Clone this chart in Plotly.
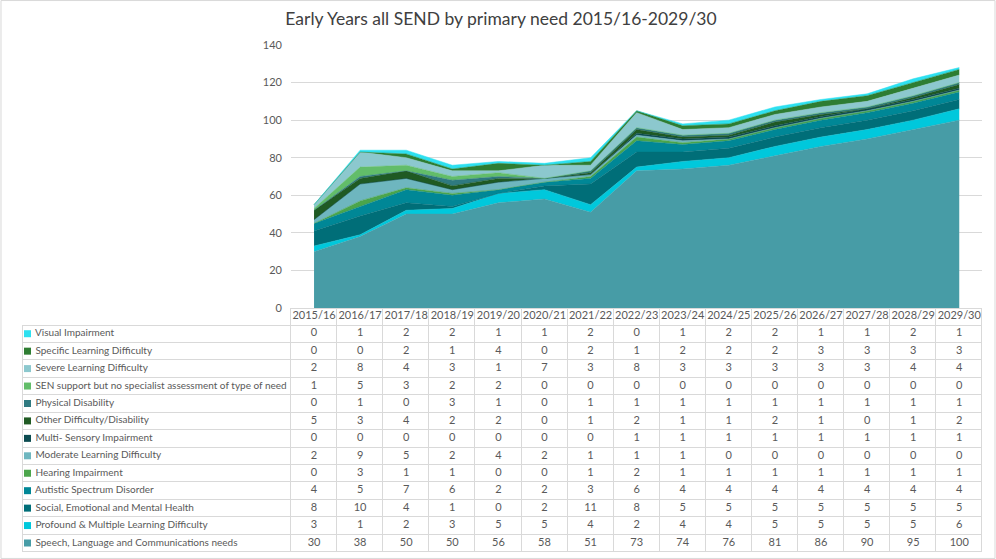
import plotly.graph_objects as go

years = ["2015/16", "2016/17", "2017/18", "2018/19", "2019/20", "2020/21", "2021/22", "2022/23",
         "2023/24", "2024/25", "2025/26", "2026/27", "2027/28", "2028/29", "2029/30"]

# Series in stacking order (bottom first)
speech = [30, 38, 50, 50, 56, 58, 51, 73, 74, 76, 81, 86, 90, 95, 100]
profound = [3, 1, 2, 3, 5, 5, 4, 2, 4, 4, 5, 5, 5, 5, 6]
social = [8, 10, 4, 1, 0, 2, 11, 8, 5, 5, 5, 5, 5, 5, 5]
autistic = [4, 5, 7, 6, 2, 2, 3, 6, 4, 4, 4, 4, 4, 4, 4]
hearing = [0, 3, 1, 1, 0, 0, 1, 2, 1, 1, 1, 1, 1, 1, 1]
moderate = [2, 9, 5, 2, 4, 2, 1, 1, 1, 0, 0, 0, 0, 0, 0]
multi_sensory = [0, 0, 0, 0, 0, 0, 0, 1, 1, 1, 1, 1, 1, 1, 1]
other = [5, 3, 4, 2, 2, 0, 1, 2, 1, 1, 2, 1, 0, 1, 2]
physical = [0, 1, 0, 3, 1, 0, 1, 1, 1, 1, 1, 1, 1, 1, 1]
sen_support = [1, 5, 3, 2, 2, 0, 0, 0, 0, 0, 0, 0, 0, 0, 0]
severe = [2, 8, 4, 3, 1, 7, 3, 8, 3, 3, 3, 3, 3, 4, 4]
specific = [0, 0, 2, 1, 4, 0, 2, 1, 2, 2, 2, 3, 3, 3, 3]
visual = [0, 1, 2, 2, 1, 1, 2, 0, 1, 2, 2, 1, 1, 2, 1]

series_names = [
    "Speech, Language and Communications needs",
    "Profound & Multiple Learning Difficulty",
    "Social, Emotional and Mental Health",
    "Autistic Spectrum Disorder",
    "Hearing Impairment",
    "Moderate Learning Difficulty",
    "Multi- Sensory Impairment",
    "Other Difficulty/Disability",
    "Physical Disability",
    "SEN support but no specialist assessment of type of need",
    "Severe Learning Difficulty",
    "Specific Learning Difficulty",
    "Visual Impairment",
]
series_values = [speech, profound, social, autistic, hearing, moderate, multi_sensory,
                 other, physical, sen_support, severe, specific, visual]
series_colors = ["#479CA6", "#00C8DC", "#006E78", "#008796", "#4BA54B", "#6EB6BF", "#0B4B50",
                 "#1F5A23", "#2F7A80", "#62BD69", "#8CC8CE", "#2E7D32", "#2EE0F0"]

title_text = "Early Years all SEND by primary need 2015/16-2029/30"
y_ticks = [0, 20, 40, 60, 80, 100, 120, 140]

W, H = 996, 559
def px_x(p):
    return p / W
def px_y(p):
    return 1 - p / H

FONT = "Lato, Carlito, Liberation Sans"
TEXT_C = "#595959"
grid = "#D9D9D9"
CLEAR = "rgba(0,0,0,0)"
ROW_H = 17.44
TABLE_L, LABEL_R, TABLE_R = 22.5, 291, 982.3
HEAD_T, ROWS_T = 308, 325

fig = go.Figure()
for name, vals, col in zip(series_names, series_values, series_colors):
    fig.add_trace(go.Scatter(
        x=years, y=vals, name=name, stackgroup="one", mode="lines",
        line=dict(width=0.5, color=col), fillcolor=col, showlegend=False,
        hoverinfo="x+y+name",
    ))

# ---- data table below the chart (top row first, as in the reference) ----
table_order = list(range(len(series_names)))[::-1]
n_rows = len(table_order)
n_cols = len(years)

# grid of the table
fig.add_trace(go.Table(
    domain=dict(x=[px_x(TABLE_L), px_x(TABLE_R)], y=[0, px_y(HEAD_T)]),
    columnwidth=[LABEL_R - TABLE_L] + [(TABLE_R - LABEL_R) / n_cols] * n_cols,
    header=dict(
        values=[""] * (n_cols + 1),
        height=ROWS_T - HEAD_T,
        fill_color=CLEAR,
        line=dict(color=[CLEAR] + [grid] * n_cols, width=1),
    ),
    cells=dict(
        values=[[""] * n_rows] * (n_cols + 1),
        height=ROW_H,
        fill_color=CLEAR,
        line=dict(color=grid, width=1),
    ),
))

# year header (row -1) and cell values, placed on the chart's category axis and a row axis
cell_x = [years[k] for r in range(n_rows) for k in range(n_cols)]
cell_y = [r for r in range(n_rows) for k in range(n_cols)]
cell_t = [str(series_values[table_order[r]][k]) for r in range(n_rows) for k in range(n_cols)]
fig.add_trace(go.Scatter(
    x=years + cell_x, y=[-1] * n_cols + cell_y, text=years + cell_t,
    xaxis="x", yaxis="y3", mode="text", textposition="middle center",
    textfont=dict(family=FONT, size=11, color=TEXT_C),
    showlegend=False, hoverinfo="skip", cliponaxis=False,
))

# row labels with legend keys, on hidden axes laid over the label column
fig.add_trace(go.Scatter(
    x=[0] * n_rows, y=list(range(n_rows)),
    text=["\u00a0" + series_names[i] for i in table_order],
    xaxis="x2", yaxis="y2", mode="markers+text", textposition="middle right",
    textfont=dict(family=FONT, size=10, color=TEXT_C),
    showlegend=False, hoverinfo="skip", cliponaxis=False,
    marker=dict(symbol="square", size=7, color=[series_colors[i] for i in table_order],
                line=dict(width=0)),
))

rows_bottom = px_y(ROWS_T + n_rows * ROW_H)
fig.update_layout(
    width=W, height=H,
    margin=dict(l=0, r=0, t=0, b=0, autoexpand=False),
    paper_bgcolor="white", plot_bgcolor="rgba(0,0,0,0)",
    title=dict(text=title_text, x=0.503, xanchor="center", y=px_y(19), yanchor="middle",
               font=dict(family=FONT, size=17.5, color="#404040"), automargin=False),
    xaxis=dict(domain=[px_x(LABEL_R), px_x(TABLE_R)], range=[-0.5, n_cols - 0.5],
               showticklabels=False, showgrid=False, zeroline=False, ticks="",
               type="category", fixedrange=True, automargin=False),
    yaxis=dict(domain=[px_y(HEAD_T), px_y(45)], range=[0, 140], tickvals=y_ticks,
               showgrid=True, gridcolor=grid, gridwidth=1, zeroline=False,
               tickfont=dict(family=FONT, size=11, color=TEXT_C),
               ticks="", ticklabelstandoff=8, fixedrange=True, automargin=False),
    yaxis3=dict(domain=[rows_bottom, px_y(ROWS_T - ROW_H)], range=[n_rows - 0.5, -1.5],
                visible=False, fixedrange=True, anchor="x"),
    xaxis2=dict(domain=[px_x(TABLE_L), px_x(LABEL_R)], range=[-5, LABEL_R - TABLE_L - 5],
                visible=False, fixedrange=True, anchor="y2"),
    yaxis2=dict(domain=[rows_bottom, px_y(ROWS_T)], range=[n_rows - 0.5, -0.5],
                visible=False, fixedrange=True, anchor="x2"),
    shapes=[dict(type="rect", xref="paper", yref="paper", x0=0.001, x1=0.999, y0=0.001, y1=0.999,
                 line=dict(color=grid, width=1))],
)

fig.write_html("out.html")
